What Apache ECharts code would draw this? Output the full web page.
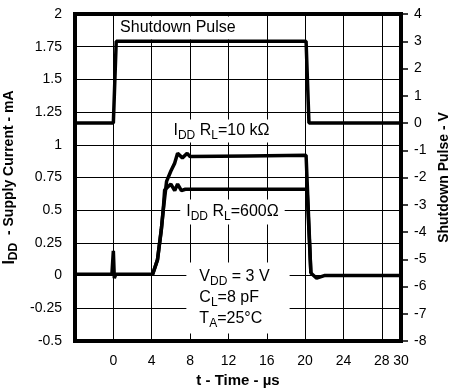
<!DOCTYPE html>
<html>
<head>
<meta charset="utf-8">
<script src="https://cdn.jsdelivr.net/npm/echarts@6/dist/echarts.min.js"></script>
<style>
html,body{margin:0;padding:0;background:#fff;}
#chart{width:455px;height:388px;}
</style>
</head>
<body>
<div id="chart"></div>
<script>
// Time axis (µs)
var xTicks = [0, 4, 8, 12, 16, 20, 24, 28, 30];
// Shutdown pulse (V), right axis
var pulseT = [-4, 0, 0.3, 20.1, 20.4, 30];
var pulseV = [0, 0, 3, 3, 0, 0];
// IDD with RL = 10 kΩ (mA)
var i10kT = [-4, -0.15, 0, 0.1, 0.25, 4.1, 4.6, 5.0, 5.2, 5.55, 6.0, 6.4, 6.7, 7.2, 7.7, 8.0, 14, 20.1, 20.6, 21.2, 22, 30];
var i10kV = [0.01, 0.01, 0.19, -0.02, 0.01, 0.01, 0.12, 0.35, 0.5, 0.72, 0.8, 0.86, 0.935, 0.9, 0.935, 0.91, 0.915, 0.92, 0.02, -0.02, 0.0, 0.0];
// IDD with RL = 600 Ω (mA)
var i600T = [4.1, 4.6, 5.0, 5.2, 5.35, 6.0, 6.4, 6.7, 7.1, 7.5, 14, 20.2, 20.6];
var i600V = [0.01, 0.12, 0.35, 0.5, 0.655, 0.70, 0.65, 0.70, 0.65, 0.66, 0.66, 0.66, 0.02];

function pairs(t, v) { return t.map(function (x, i) { return [x, v[i]]; }); }

var FONT = '"Liberation Sans", Arial, sans-serif';
var chart = echarts.init(document.getElementById('chart'));

var lineStyle = { color: '#000', width: 3.5 };
chart.setOption({
  animation: false,
  backgroundColor: '#fff',
  textStyle: { fontFamily: FONT },
  grid: { left: 75, right: 54, top: 14, bottom: 47, containLabel: false, outerBoundsMode: 'none',
          show: true, borderColor: '#000', borderWidth: 4, backgroundColor: 'transparent' },
  xAxis: {
    type: 'value', min: -4, max: 30, interval: 4,
    axisLine: { show: false }, axisTick: { show: false },
    splitLine: { show: true, lineStyle: { color: '#000', width: 1 } },
    axisLabel: {
      color: '#000', fontSize: 14, fontFamily: FONT, margin: 13, showMaxLabel: true,
      formatter: function (v) { return xTicks.indexOf(v) >= 0 ? String(v) : ''; }
    },
    name: 't - Time - µs', nameLocation: 'middle', nameGap: 32,
    nameTextStyle: { color: '#000', fontSize: 15, fontWeight: 'bold', fontFamily: FONT }
  },
  yAxis: [{
    type: 'value', min: -0.5, max: 2, interval: 0.25, position: 'left',
    axisLine: { show: false }, axisTick: { show: false },
    splitLine: { show: true, lineStyle: { color: '#000', width: 1 } },
    axisLabel: { color: '#000', fontSize: 14, fontFamily: FONT, margin: 13 },
    name: '{i|I}{s|DD}{t|  - Supply Current - mA}', nameLocation: 'middle', nameGap: 50, nameRotate: 90,
    nameTextStyle: {
      color: '#000', fontFamily: FONT,
      rich: {
        i: { fontSize: 16, fontWeight: 'bold', fontFamily: FONT, color: '#000', lineHeight: 20 },
        s: { fontSize: 12, fontWeight: 'bold', fontFamily: FONT, color: '#000', lineHeight: 12, verticalAlign: 'bottom' },
        t: { fontSize: 14, fontWeight: 'bold', fontFamily: FONT, color: '#000', lineHeight: 20 }
      }
    }
  }, {
    type: 'value', min: -8, max: 4, interval: 1, position: 'right',
    axisLine: { show: false },
    axisTick: { show: true, length: 7, lineStyle: { color: '#000', width: 1.5 } },
    splitLine: { show: false },
    axisLabel: { color: '#000', fontSize: 14, fontFamily: FONT, margin: 13 },
    name: 'Shutdown Pulse - V', nameLocation: 'middle', nameGap: 35, nameRotate: 90,
    nameTextStyle: { color: '#000', fontSize: 14, fontWeight: 'bold', fontFamily: FONT }
  }],
  series: [
    { type: 'line', yAxisIndex: 1, data: pairs(pulseT, pulseV), showSymbol: false, lineStyle: lineStyle, z: 10 },
    { type: 'line', yAxisIndex: 0, data: pairs(i10kT, i10kV), showSymbol: false, lineStyle: lineStyle, z: 10 },
    { type: 'line', yAxisIndex: 0, data: pairs(i600T, i600V), showSymbol: false, lineStyle: lineStyle, z: 10 }
  ]
});

var rich = {
  n: { fontSize: 16, fontFamily: FONT, color: '#000', lineHeight: 21 },
  s: { fontSize: 12, fontFamily: FONT, color: '#000', lineHeight: 12, verticalAlign: 'bottom' }
};
// Annotation anchors in data coordinates (left edge, vertical centre)
var notes = [
  { at: [0.7, 1.893], text: '{n|Shutdown Pulse}', pad: [1, 4, 1, 4] },
  { at: [6.27, 1.105], text: '{n|I}{s|DD}{n| R}{s|L}{n|=10 kΩ}', pad: [1, 4, 1, 4] },
  { at: [7.6, 0.486], text: '{n|I}{s|DD}{n| R}{s|L}{n|=600Ω}', pad: [2, 6, 2, 6] },
  { at: [8.97, -0.171], text: '{n|V}{s|DD}{n| = 3 V}\n{n|C}{s|L}{n|=8 pF}\n{n|T}{s|A}{n|=25°C}', pad: [4, 20, 4, 13] }
];
var g = notes.map(function (nt) {
  var p = chart.convertToPixel({ xAxisIndex: 0, yAxisIndex: 0 }, nt.at);
  return {
    type: 'text', x: p[0] - nt.pad[3], y: p[1], z: 5,
    style: {
      text: nt.text, rich: rich, fontFamily: FONT, fontSize: 16, fill: '#000',
      backgroundColor: '#fff', padding: nt.pad,
      align: 'left', verticalAlign: 'middle'
    }
  };
});
chart.setOption({ graphic: g });
</script>
</body>
</html>
